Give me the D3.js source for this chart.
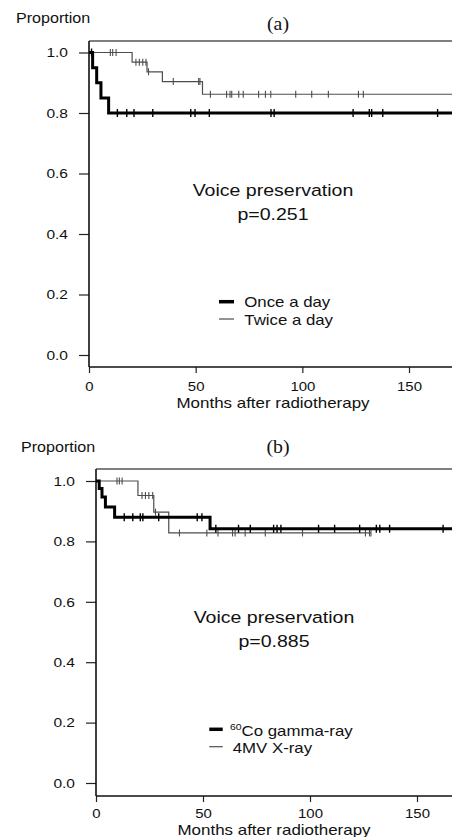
<!DOCTYPE html>
<html><head><meta charset="utf-8">
<script src="https://cdn.jsdelivr.net/npm/d3@7"></script>
<style>html,body{margin:0;padding:0;background:#fff;overflow:hidden}svg{display:block}</style>
</head><body>
<script>
// ---------- data ----------
const yTicks = [0, 0.2, 0.4, 0.6, 0.8, 1.0];
const xTicks = [0, 50, 100, 150];

// Panel (a)
const aOnceEventTimes = [1.7, 3.6, 5.6, 9.2];
const aOnceSurvival   = [0.95, 0.90, 0.85, 0.80];
const aOnceCensor     = [1.2, 13.3, 17.7, 21.1, 29.9, 47.7, 49.7, 56.4, 85.3, 86.8, 123.8, 131.4, 132.5, 137.7, 163.4];
const aOnceEnd = 175;
const aTwiceEventTimes = [20.2, 27.2, 34.4, 53.2];
const aTwiceSurvival   = [0.968, 0.936, 0.904, 0.862];
const aTwiceCensor     = [10.0, 11.1, 12.7, 22.0, 23.6, 25.2, 26.7, 27.9, 39.5, 51.4, 52.0, 56.9, 64.5, 66.1, 66.9, 70.2, 72.3, 79.5, 82.7, 85.2, 96.9, 104.4, 112.2, 126.3, 128.6];
const aTwiceEnd = 175;

// Panel (b)
const bCoEventTimes = [1.5, 2.8, 4.4, 8.7, 53.3];
const bCoSurvival   = [0.975, 0.947, 0.914, 0.880, 0.842];
const bCoCensor     = [13.2, 17.2, 20.7, 21.9, 29.3, 47.3, 49.5, 56.0, 66.6, 72.1, 83.0, 84.6, 86.4, 104.0, 111.5, 123.2, 131.0, 132.6, 137.2, 162.2];
const bCoEnd = 175;
const bXEventTimes = [19.6, 27.0, 34.0];
const bXSurvival   = [0.952, 0.897, 0.828];
const bXCensor     = [9.8, 10.9, 12.2, 21.5, 23.1, 24.7, 26.5, 27.8, 39.0, 51.8, 57.0, 63.8, 65.0, 69.7, 79.1, 96.5, 125.9, 127.8, 128.5];
const bXEnd = 128.5;

// ---------- drawing ----------
const W = 452, H = 837;
const svg = d3.select("body").append("svg").attr("width", W).attr("height", H);
const SANS = "'Liberation Sans', Arial, sans-serif";
const SERIF = "'Liberation Serif', 'Times New Roman', serif";
const SX = 1.15;
const THIN = "#4d4d4d";

function txt(x, y, s, size, anchor, family, sx) {
  return svg.append("text")
    .attr("transform", `translate(${x},${y}) scale(${sx},1)`)
    .attr("font-family", family).attr("font-size", size)
    .attr("text-anchor", anchor).attr("fill", "#111").text(s);
}

function stepPoints(times, surv, end) {
  const pts = [[0, 1]];
  times.forEach((t, i) => pts.push([t, surv[i]]));
  pts.push([end, surv[surv.length - 1]]);
  return pts;
}
function survAt(times, surv, t) {
  let s = 1;
  times.forEach((tt, i) => { if (tt <= t) s = surv[i]; });
  return s;
}

function panel(cfg) {
  const x = d3.scaleLinear().domain([0, 150]).range([cfg.x0, cfg.x150]);
  const y = d3.scaleLinear().domain([0, 1]).range([cfg.y0, cfg.y1]);
  const g = svg.append("g");
  // top border
  g.append("line").attr("x1", cfg.x0).attr("x2", W).attr("y1", cfg.top).attr("y2", cfg.top)
    .attr("stroke", "#555").attr("stroke-width", 1.3);
  // y axis
  const ya = g.append("g").attr("transform", `translate(${cfg.x0},0)`)
    .call(d3.axisLeft(y).tickValues(yTicks).tickFormat(d3.format(".1f")).tickSize(10).tickPadding(11));
  ya.select(".domain").remove();
  ya.selectAll(".tick line").attr("stroke", "#222").attr("stroke-width", 1.2);
  ya.selectAll(".tick text").attr("font-family", SANS).attr("font-size", 13.5).attr("fill", "#111")
    .attr("x", 0).attr("transform", `translate(-21,0) scale(${SX},1)`);
  g.append("line").attr("x1", cfg.x0).attr("x2", cfg.x0).attr("y1", cfg.top).attr("y2", cfg.bottom)
    .attr("stroke", "#111").attr("stroke-width", 1.6);
  // x axis
  const xa = g.append("g").attr("transform", `translate(0,${cfg.bottom})`)
    .call(d3.axisBottom(x).tickValues(xTicks).tickFormat(d3.format("d")).tickSize(6));
  xa.select(".domain").remove();
  xa.selectAll(".tick line").attr("stroke", "#222").attr("stroke-width", 1.2);
  xa.selectAll(".tick text").attr("font-family", SANS).attr("font-size", 13).attr("fill", "#111")
    .attr("y", 0).attr("dy", 0).attr("transform", `translate(0,${cfg.tickOff}) scale(${SX},1)`);
  g.append("line").attr("x1", cfg.x0).attr("x2", W).attr("y1", cfg.bottom).attr("y2", cfg.bottom)
    .attr("stroke", "#111").attr("stroke-width", 1.6);

  const line = d3.line().x(d => x(d[0])).y(d => y(d[1])).curve(d3.curveStepAfter);
  cfg.series.forEach(s => {
    g.append("path").attr("d", line(stepPoints(s.times, s.surv, s.end)))
      .attr("fill", "none").attr("stroke", s.color).attr("stroke-width", s.width);
    g.selectAll(null).data(s.censor).enter().append("line")
      .attr("x1", d => x(d)).attr("x2", d => x(d))
      .attr("y1", d => y(survAt(s.times, s.surv, d)) - s.mark)
      .attr("y2", d => y(survAt(s.times, s.surv, d)) + s.mark)
      .attr("stroke", s.color).attr("stroke-width", s.markW);
  });
  return {x, y};
}

// Panel (a)
panel({x0: 89, x150: 409, y0: 355, y1: 52.5, top: 41, bottom: 367, tickOff: 23.5,
  series: [
    {times: aTwiceEventTimes, surv: aTwiceSurvival, censor: aTwiceCensor, end: aTwiceEnd, color: THIN, width: 1.2, mark: 3.5, markW: 1.1},
    {times: aOnceEventTimes, surv: aOnceSurvival, censor: aOnceCensor, end: aOnceEnd, color: "#000", width: 3, mark: 4, markW: 1.4}
  ]});
txt(16, 23, "Proportion", 14, "start", SANS, SX);
txt(278, 29.5, "(a)", 18, "middle", SERIF, 1.1);
txt(273, 407.5, "Months after radiotherapy", 15, "middle", SANS, 1.13);
txt(273, 196, "Voice preservation", 17, "middle", SANS, SX);
txt(273, 220, "p=0.251", 17, "middle", SANS, SX);
svg.append("line").attr("x1", 219).attr("x2", 234).attr("y1", 301.7).attr("y2", 301.7).attr("stroke", "#000").attr("stroke-width", 3.5);
svg.append("line").attr("x1", 219).attr("x2", 234).attr("y1", 319).attr("y2", 319).attr("stroke", THIN).attr("stroke-width", 1.2);
txt(244.3, 307, "Once a day", 14.5, "start", SANS, 1.16);
txt(244.3, 324.5, "Twice a day", 14.5, "start", SANS, 1.16);

// Panel (b)
panel({x0: 96, x150: 417, y0: 783, y1: 481, top: 469, bottom: 796, tickOff: 21.5,
  series: [
    {times: bXEventTimes, surv: bXSurvival, censor: bXCensor, end: bXEnd, color: THIN, width: 1.2, mark: 3.5, markW: 1.1},
    {times: bCoEventTimes, surv: bCoSurvival, censor: bCoCensor, end: bCoEnd, color: "#000", width: 3, mark: 4, markW: 1.4}
  ]});
txt(21, 451.5, "Proportion", 14, "start", SANS, SX);
txt(278, 453, "(b)", 18, "middle", SERIF, 1.1);
txt(274, 834.5, "Months after radiotherapy", 15, "middle", SANS, 1.13);
txt(274, 623, "Voice preservation", 17, "middle", SANS, SX);
txt(274, 647, "p=0.885", 17, "middle", SANS, SX);
svg.append("line").attr("x1", 209.3).attr("x2", 222.7).attr("y1", 729.3).attr("y2", 729.3).attr("stroke", "#000").attr("stroke-width", 3.5);
svg.append("line").attr("x1", 209.3).attr("x2", 222.7).attr("y1", 746.7).attr("y2", 746.7).attr("stroke", THIN).attr("stroke-width", 1.2);
const coT = txt(230, 735.5, "", 14.5, "start", SANS, 1.16);
coT.append("tspan").attr("font-size", 9).attr("dy", -6).text("60");
coT.append("tspan").attr("dy", 6).text("Co gamma-ray");
txt(232.7, 753.3, "4MV X-ray", 14.5, "start", SANS, 1.16);
</script>
</body></html>
